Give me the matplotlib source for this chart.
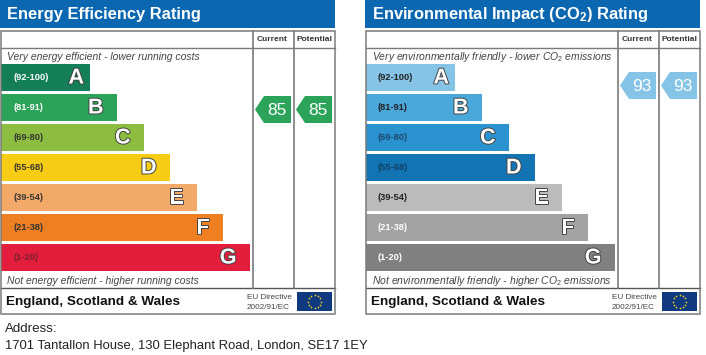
import numpy as np
import matplotlib
matplotlib.use('Agg')
import matplotlib.pyplot as plt
from matplotlib.patches import Polygon, Rectangle
import matplotlib.patheffects as pe

W, H = 706, 355

# data
bands = ['A', 'B', 'C', 'D', 'E', 'F', 'G']
ranges = ['(92-100)', '(81-91)', '(69-80)', '(55-68)', '(39-54)', '(21-38)', '(1-20)']
bar_lengths = [90, 117, 144, 170, 197, 223, 250]
energy_colors = ['#137e57', '#2ba358', '#8dbd40', '#f7cc14', '#f3aa69', '#ee7f23', '#e31d3c']
env_colors = ['#85c4e6', '#4aa7da', '#2a92cf', '#1374b4', '#bbbbbb', '#a3a3a3', '#808080']
energy_label_colors = ['white', 'white', '#333333', '#333333', '#333333', '#333333', '#7a2030']
env_label_colors = ['#222222', '#222222', '#1c4a6e', '#0f3f63', '#222222', 'white', 'white']
energy_current, energy_potential = 85, 85
env_current, env_potential = 93, 93
energy_arrow_color = '#2ba358'
env_arrow_color = '#85c4e6'

plt.rcParams['font.family'] = ['Liberation Sans', 'DejaVu Sans']
plt.rcParams['mathtext.fontset'] = 'custom'
plt.rcParams['mathtext.rm'] = 'Liberation Sans'
plt.rcParams['mathtext.it'] = 'Liberation Sans:italic'
plt.rcParams['mathtext.bf'] = 'Liberation Sans:bold'

fig = plt.figure(figsize=(W / 100, H / 100), dpi=100)
ax = fig.add_axes([0, 0, 1, 1])
ax.set_xlim(0, W)
ax.set_ylim(H, 0)
ax.axis('off')


def score_y(score):
    # arrow height on the rating scale
    return 364.5 - 3 * score


def draw_panel(x0, title, top_note, bottom_note, colors, label_colors, current, potential, arrow_color):
    line = '#7a7a7a'
    # header
    ax.add_patch(Rectangle((x0, 0), 335, 28, color='#0b68b0', lw=0))
    ax.text(x0 + 7, 14.5, title, color='white', fontsize=11.9, fontweight='bold', va='center')
    # frame
    ax.add_patch(Rectangle((x0 + 0.5, 30.5), 334, 283, fill=False, ec=line, lw=1.1, zorder=5))
    ax.plot([x0 + 0.5, x0 + 334.5], [47.5, 47.5], color=line, lw=1)
    ax.plot([x0 + 0.5, x0 + 334.5], [287.5, 287.5], color='#555555', lw=1)
    ax.plot([x0 + 253, x0 + 253], [30.5, 287.5], color=line, lw=1.2)
    ax.plot([x0 + 294, x0 + 294], [30.5, 287.5], color=line, lw=1.2)
    ax.text(x0 + 272.5, 39.5, 'Current', fontsize=6, fontweight='bold', color='#333333', ha='center', va='center')
    ax.text(x0 + 314.5, 39.5, 'Potential', fontsize=6, fontweight='bold', color='#333333', ha='center', va='center')
    ax.text(x0 + 7, 56.5, top_note, fontsize=7.5, style='italic', color='#444444', va='center')
    ax.text(x0 + 7, 280.5, bottom_note, fontsize=7.5, style='italic', color='#444444', va='center')
    # bars
    for i, band in enumerate(bands):
        yc = 77.5 + i * 30
        ax.add_patch(Rectangle((x0 + 1, yc - 13.5), bar_lengths[i] - 1, 27, color=colors[i], lw=0))
        ax.text(x0 + 13, yc, ranges[i], fontsize=6.7, fontweight='bold', color=label_colors[i], va='center')
        pad = 6 if i == 0 else 13.5
        ax.text(x0 + bar_lengths[i] - pad, yc + 0.5, band, fontsize=15.5, fontweight='bold', color='white',
                ha='right', va='center',
                path_effects=[pe.withStroke(linewidth=1.4, foreground='#444444')])
    # arrows
    for cx, val in ((x0 + 255, current), (x0 + 296, potential)):
        yc = score_y(val)
        ax.add_patch(Polygon([(cx, yc), (cx + 9, yc - 13.5), (cx + 36, yc - 13.5),
                              (cx + 36, yc + 13.5), (cx + 9, yc + 13.5)], color=arrow_color, lw=0))
        ax.text(cx + 21.5, yc + 1, str(val), color='white', fontsize=12.5, ha='center', va='center')
    # footer
    ax.text(x0 + 6, 302.5, 'England, Scotland & Wales', fontsize=9.7, fontweight='bold', color='#111111', va='center')
    ax.text(x0 + 247, 297.2, 'EU Directive', fontsize=5.9, color='#444444', va='center')
    ax.text(x0 + 247, 307.2, '2002/91/EC', fontsize=5.9, color='#444444', va='center')
    ax.add_patch(Rectangle((x0 + 297, 292), 35, 19, color='#0f3a80', lw=0))
    angles = np.linspace(0, 2 * np.pi, 12, endpoint=False)
    ax.scatter(x0 + 314.5 + 6.5 * np.cos(angles), 301.5 + 6.5 * np.sin(angles), s=1.5, color='#f3d21f', lw=0)


draw_panel(0, 'Energy Efficiency Rating', 'Very energy efficient - lower running costs',
           'Not energy efficient - higher running costs', energy_colors, energy_label_colors,
           energy_current, energy_potential, energy_arrow_color)
draw_panel(365, 'Environmental Impact (CO$_{\\mathbf{2}}$) Rating',
           'Very environmentally friendly - lower CO$_{2}$ emissions',
           'Not environmentally friendly - higher CO$_{2}$ emissions', env_colors, env_label_colors,
           env_current, env_potential, env_arrow_color)

ax.text(5, 329, 'Address:', fontsize=9.6, color='#222222', va='center')
ax.text(5, 346, '1701 Tantallon House, 130 Elephant Road, London, SE17 1EY', fontsize=9.35, color='#222222', va='center')

fig.savefig('out.png', dpi=100)
